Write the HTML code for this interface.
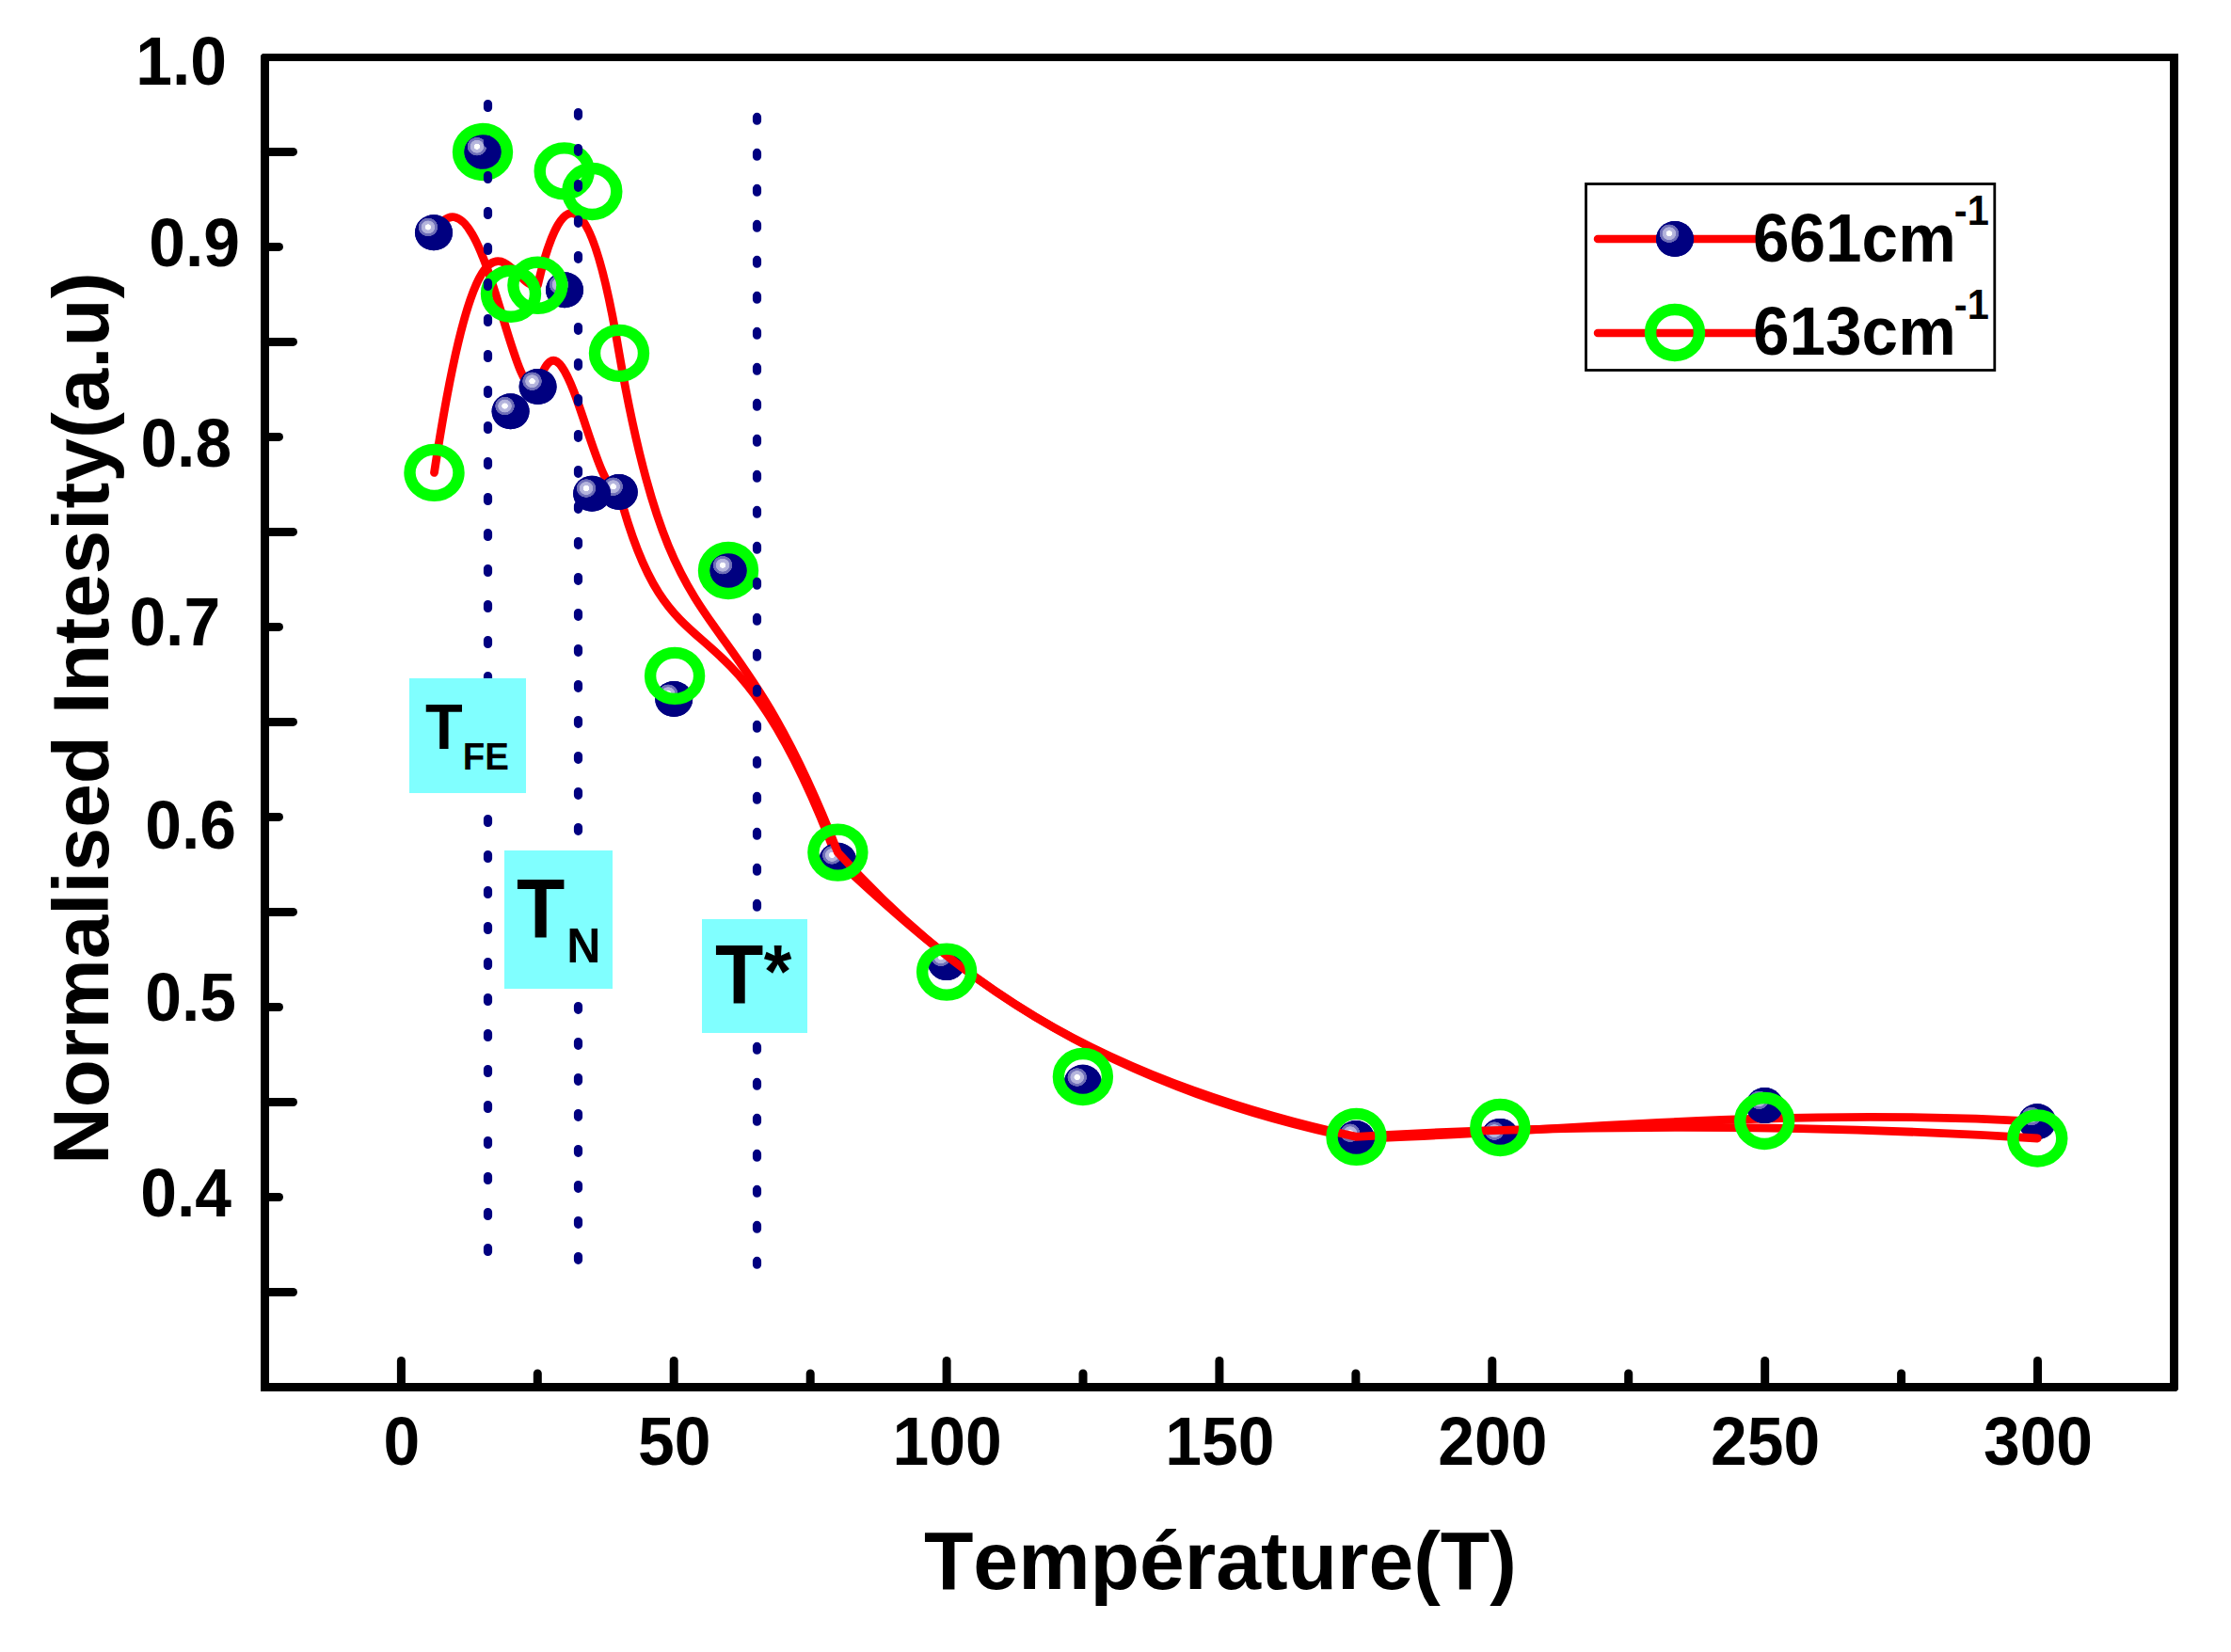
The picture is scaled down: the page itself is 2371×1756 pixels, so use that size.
<!DOCTYPE html>
<html lang="fr"><head><meta charset="utf-8">
<title>Normalised Intesity vs Température</title>
<style>
html,body{margin:0;padding:0;background:#fff;}
body{width:2371px;height:1756px;overflow:hidden;}
svg{display:block;}
text{font-family:"Liberation Sans",sans-serif;font-weight:bold;fill:#000;font-kerning:none;}
</style></head><body>
<svg width="2371" height="1756" viewBox="0 0 2371 1756">
<defs>
<radialGradient id="ball" cx="0.348" cy="0.348" r="0.26" fx="0.348" fy="0.348">
<stop offset="0" stop-color="#ffffff"/><stop offset="0.29" stop-color="#fcfcff"/>
<stop offset="0.33" stop-color="#b8b8de"/><stop offset="0.67" stop-color="#b0b0da"/>
<stop offset="0.72" stop-color="#7272ba"/><stop offset="0.96" stop-color="#6a6ab4"/>
<stop offset="1" stop-color="#000080"/>
</radialGradient>
</defs>
<rect width="2371" height="1756" fill="#fff"/>
<path d="M279,57 H2315 V1477 L2313,1479 H277 V59 Z M286,65 V1470 H2306 V65 Z" fill="#000" fill-rule="evenodd"/>
<g stroke="#000" stroke-width="9" stroke-linecap="round" fill="none">
<line x1="426.4" y1="1474.5" x2="426.4" y2="1446.5"/>
<line x1="716.2" y1="1474.5" x2="716.2" y2="1446.5"/>
<line x1="1006.1" y1="1474.5" x2="1006.1" y2="1446.5"/>
<line x1="1295.9" y1="1474.5" x2="1295.9" y2="1446.5"/>
<line x1="1585.8" y1="1474.5" x2="1585.8" y2="1446.5"/>
<line x1="1875.7" y1="1474.5" x2="1875.7" y2="1446.5"/>
<line x1="2165.5" y1="1474.5" x2="2165.5" y2="1446.5"/>
<line x1="571.3" y1="1474.5" x2="571.3" y2="1460"/>
<line x1="861.2" y1="1474.5" x2="861.2" y2="1460"/>
<line x1="1151.0" y1="1474.5" x2="1151.0" y2="1460"/>
<line x1="1440.9" y1="1474.5" x2="1440.9" y2="1460"/>
<line x1="1730.7" y1="1474.5" x2="1730.7" y2="1460"/>
<line x1="2020.6" y1="1474.5" x2="2020.6" y2="1460"/>
<line x1="281.5" y1="1272.5" x2="296.5" y2="1272.5"/>
<line x1="281.5" y1="1070.5" x2="296.5" y2="1070.5"/>
<line x1="281.5" y1="868.4" x2="296.5" y2="868.4"/>
<line x1="281.5" y1="666.4" x2="296.5" y2="666.4"/>
<line x1="281.5" y1="464.4" x2="296.5" y2="464.4"/>
<line x1="281.5" y1="262.4" x2="296.5" y2="262.4"/>
<line x1="281.5" y1="1373.5" x2="311.5" y2="1373.5"/>
<line x1="281.5" y1="1171.5" x2="311.5" y2="1171.5"/>
<line x1="281.5" y1="969.4" x2="311.5" y2="969.4"/>
<line x1="281.5" y1="767.4" x2="311.5" y2="767.4"/>
<line x1="281.5" y1="565.4" x2="311.5" y2="565.4"/>
<line x1="281.5" y1="363.4" x2="311.5" y2="363.4"/>
<line x1="281.5" y1="161.4" x2="311.5" y2="161.4"/>
</g>
<path d="M461.0,247.2 C513.0,161.5 542.6,437.3 571.6,411.0 C600.0,308.2 629.1,524.8 657.8,523.0 C716.2,743.0 774.1,606.5 890.3,914.7 C1006.0,1023.1 1150.8,1150.8 1441.0,1210.0 C1594.2,1207.9 1875.4,1175.1 2165.0,1192.3" fill="none" stroke="#ff0000" stroke-width="8.8" stroke-linecap="round" stroke-linejoin="round"/>
<ellipse cx="461.0" cy="247.2" rx="20" ry="19" fill="#000080"/><ellipse cx="461.0" cy="247.2" rx="20" ry="19" fill="url(#ball)"/>
<ellipse cx="513.0" cy="161.5" rx="20" ry="19" fill="#000080"/><ellipse cx="513.0" cy="161.5" rx="20" ry="19" fill="url(#ball)"/>
<ellipse cx="542.6" cy="437.3" rx="20" ry="19" fill="#000080"/><ellipse cx="542.6" cy="437.3" rx="20" ry="19" fill="url(#ball)"/>
<ellipse cx="571.6" cy="411.0" rx="20" ry="19" fill="#000080"/><ellipse cx="571.6" cy="411.0" rx="20" ry="19" fill="url(#ball)"/>
<ellipse cx="600.0" cy="308.2" rx="20" ry="19" fill="#000080"/><ellipse cx="600.0" cy="308.2" rx="20" ry="19" fill="url(#ball)"/>
<ellipse cx="657.8" cy="523.0" rx="20" ry="19" fill="#000080"/><ellipse cx="657.8" cy="523.0" rx="20" ry="19" fill="url(#ball)"/>
<ellipse cx="629.1" cy="524.8" rx="20" ry="19" fill="#000080"/><ellipse cx="629.1" cy="524.8" rx="20" ry="19" fill="url(#ball)"/>
<ellipse cx="716.2" cy="743.0" rx="20" ry="19" fill="#000080"/><ellipse cx="716.2" cy="743.0" rx="20" ry="19" fill="url(#ball)"/>
<ellipse cx="774.1" cy="606.5" rx="20" ry="19" fill="#000080"/><ellipse cx="774.1" cy="606.5" rx="20" ry="19" fill="url(#ball)"/>
<ellipse cx="890.3" cy="914.7" rx="20" ry="19" fill="#000080"/><ellipse cx="890.3" cy="914.7" rx="20" ry="19" fill="url(#ball)"/>
<ellipse cx="1006.0" cy="1023.1" rx="20" ry="19" fill="#000080"/><ellipse cx="1006.0" cy="1023.1" rx="20" ry="19" fill="url(#ball)"/>
<ellipse cx="1150.8" cy="1150.8" rx="20" ry="19" fill="#000080"/><ellipse cx="1150.8" cy="1150.8" rx="20" ry="19" fill="url(#ball)"/>
<ellipse cx="1441.0" cy="1210.0" rx="20" ry="19" fill="#000080"/><ellipse cx="1441.0" cy="1210.0" rx="20" ry="19" fill="url(#ball)"/>
<ellipse cx="1594.2" cy="1207.9" rx="20" ry="19" fill="#000080"/><ellipse cx="1594.2" cy="1207.9" rx="20" ry="19" fill="url(#ball)"/>
<ellipse cx="1875.4" cy="1175.1" rx="20" ry="19" fill="#000080"/><ellipse cx="1875.4" cy="1175.1" rx="20" ry="19" fill="url(#ball)"/>
<ellipse cx="2165.0" cy="1192.3" rx="20" ry="19" fill="#000080"/><ellipse cx="2165.0" cy="1192.3" rx="20" ry="19" fill="url(#ball)"/>
<path d="M461.5,502.4 C513.0,161.5 543.0,312.2 571.4,303.3 C599.7,181.9 629.3,203.5 658.0,375.4 C717.1,718.4 774.0,606.5 890.4,906.1 C1006.1,1033.1 1150.9,1144.5 1441.5,1208.4 C1594.3,1198.5 1875.2,1191.5 2165.3,1210.0" fill="none" stroke="#ff0000" stroke-width="8.8" stroke-linecap="round" stroke-linejoin="round"/>
<ellipse cx="461.5" cy="502.4" rx="26" ry="24.5" fill="none" stroke="#00ff00" stroke-width="12.4"/>
<ellipse cx="513.0" cy="161.5" rx="26" ry="24.5" fill="none" stroke="#00ff00" stroke-width="12.4"/>
<ellipse cx="543.0" cy="312.2" rx="26" ry="24.5" fill="none" stroke="#00ff00" stroke-width="12.4"/>
<ellipse cx="571.4" cy="303.3" rx="26" ry="24.5" fill="none" stroke="#00ff00" stroke-width="12.4"/>
<ellipse cx="599.7" cy="181.9" rx="26" ry="24.5" fill="none" stroke="#00ff00" stroke-width="12.4"/>
<ellipse cx="629.3" cy="203.5" rx="26" ry="24.5" fill="none" stroke="#00ff00" stroke-width="12.4"/>
<ellipse cx="658.0" cy="375.4" rx="26" ry="24.5" fill="none" stroke="#00ff00" stroke-width="12.4"/>
<ellipse cx="717.1" cy="718.4" rx="26" ry="24.5" fill="none" stroke="#00ff00" stroke-width="12.4"/>
<ellipse cx="774.0" cy="606.5" rx="26" ry="24.5" fill="none" stroke="#00ff00" stroke-width="12.4"/>
<ellipse cx="890.4" cy="906.1" rx="26" ry="24.5" fill="none" stroke="#00ff00" stroke-width="12.4"/>
<ellipse cx="1006.1" cy="1033.1" rx="26" ry="24.5" fill="none" stroke="#00ff00" stroke-width="12.4"/>
<ellipse cx="1150.9" cy="1144.5" rx="26" ry="24.5" fill="none" stroke="#00ff00" stroke-width="12.4"/>
<ellipse cx="1441.5" cy="1208.4" rx="26" ry="24.5" fill="none" stroke="#00ff00" stroke-width="12.4"/>
<ellipse cx="1594.3" cy="1198.5" rx="26" ry="24.5" fill="none" stroke="#00ff00" stroke-width="12.4"/>
<ellipse cx="1875.2" cy="1191.5" rx="26" ry="24.5" fill="none" stroke="#00ff00" stroke-width="12.4"/>
<ellipse cx="2165.3" cy="1210.0" rx="26" ry="24.5" fill="none" stroke="#00ff00" stroke-width="12.4"/>
<g stroke="#000080" stroke-width="9.2" stroke-linecap="round" stroke-dasharray="3.8 34.2" fill="none">
<line x1="518.5" y1="110.6" x2="518.5" y2="1330.6"/>
<line x1="614.5" y1="119.5" x2="614.5" y2="1339.5"/>
<line x1="804.5" y1="124.4" x2="804.5" y2="1344.4"/>
</g>
<rect x="435" y="721" width="124" height="122" fill="#80ffff"/>
<text transform="translate(452 796) scale(1 1.04)" font-size="65" text-anchor="start">T<tspan font-size="38.5" dx="0" dy="21.2">FE</tspan></text>
<rect x="536" y="904" width="115" height="147" fill="#80ffff"/>
<text transform="translate(549 996) scale(1 1.05)" font-size="84" text-anchor="start">T<tspan font-size="50" dx="2" dy="26">N</tspan></text>
<rect x="746" y="977" width="112" height="121" fill="#80ffff"/>
<text transform="translate(760 1066) scale(1 1.05)" font-size="84" text-anchor="start">T<tspan font-size="76" dx="0.5" dy="-6">*</tspan></text>
<rect x="1685.5" y="195.5" width="434.3" height="198" fill="#fff" stroke="#000" stroke-width="2.8"/>
<line x1="1698" y1="254" x2="1866" y2="254" stroke="#ff0000" stroke-width="8.5" stroke-linecap="round"/>
<ellipse cx="1780" cy="254" rx="20" ry="19" fill="#000080"/><ellipse cx="1780" cy="254" rx="20" ry="19" fill="url(#ball)"/>
<line x1="1698" y1="354" x2="1866" y2="354" stroke="#ff0000" stroke-width="8.5" stroke-linecap="round"/>
<ellipse cx="1780" cy="353.5" rx="26" ry="24.5" fill="none" stroke="#00ff00" stroke-width="12.4"/>
<text transform="translate(1863 277.6) scale(0.99 1.04)" font-size="70" text-anchor="start">661cm<tspan font-size="42" dx="-2" dy="-37">-1</tspan></text>
<text transform="translate(1863 377.2) scale(0.99 1.04)" font-size="70" text-anchor="start">613cm<tspan font-size="42" dx="-2" dy="-37">-1</tspan></text>
<text transform="translate(426.9 1557) scale(0.995 1.04)" font-size="70" text-anchor="middle">0</text>
<text transform="translate(716.8 1557) scale(0.995 1.04)" font-size="70" text-anchor="middle">50</text>
<text transform="translate(1006.6 1557) scale(0.995 1.04)" font-size="70" text-anchor="middle">100</text>
<text transform="translate(1296.4 1557) scale(0.995 1.04)" font-size="70" text-anchor="middle">150</text>
<text transform="translate(1586.3 1557) scale(0.995 1.04)" font-size="70" text-anchor="middle">200</text>
<text transform="translate(1876.2 1557) scale(0.995 1.04)" font-size="70" text-anchor="middle">250</text>
<text transform="translate(2166.0 1557) scale(0.995 1.04)" font-size="70" text-anchor="middle">300</text>
<text transform="translate(241 89.5) scale(0.995 1.04)" font-size="70" text-anchor="end">1.0</text>
<text transform="translate(255 282.6) scale(0.995 1.04)" font-size="70" text-anchor="end">0.9</text>
<text transform="translate(246.2 496.2) scale(0.995 1.04)" font-size="70" text-anchor="end">0.8</text>
<text transform="translate(234.2 686) scale(0.995 1.04)" font-size="70" text-anchor="end">0.7</text>
<text transform="translate(251 901.6) scale(0.995 1.04)" font-size="70" text-anchor="end">0.6</text>
<text transform="translate(251 1084.8) scale(0.995 1.04)" font-size="70" text-anchor="end">0.5</text>
<text transform="translate(246.1 1292.9) scale(0.995 1.04)" font-size="70" text-anchor="end">0.4</text>
<text transform="translate(1296.9 1689) scale(1 1.01)" font-size="85.9" text-anchor="middle">Température(T)</text>
<text transform="translate(114.7 763.6) rotate(-90) scale(0.996 1)" font-size="84" text-anchor="middle">Normalised Intesity(a.u)</text>
</svg></body></html>
